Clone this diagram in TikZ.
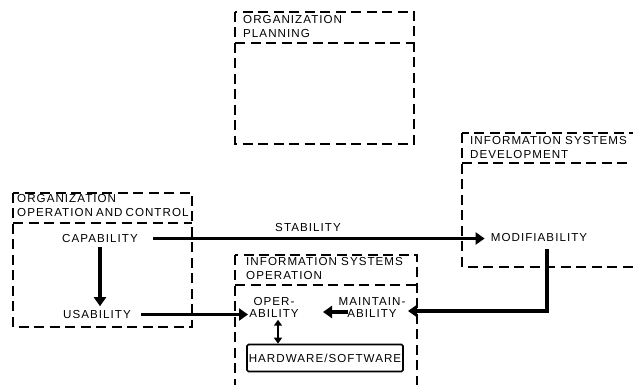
\documentclass[tikz,border=0pt]{standalone}
\usepackage{fontspec}
\setmainfont[LetterSpace=9]{Liberation Sans}
\usetikzlibrary{arrows.meta}
\begin{document}
\begin{tikzpicture}[x=1pt,y=-1pt,
  dashbox/.style={draw, line width=1.7pt, dash pattern=on 10pt off 5.5pt},
  lbl/.style={font=\fontsize{11.6}{12}\selectfont, inner sep=0pt, align=center},
  head/.style={font=\fontsize{11.6}{14}\selectfont, inner sep=0pt, align=left, anchor=north west},
  flow/.style={line width=3.2pt, -{Triangle[width=12pt,length=9pt]}},
  pair/.style={line width=2.2pt, {Triangle[width=8pt,length=6pt]}-{Triangle[width=8pt,length=6pt]}},
  hwbox/.style={draw, line width=1.6pt, rounded corners=1.5pt, minimum width=156pt, minimum height=27pt,
    font=\fontsize{11.6}{12}\selectfont, inner sep=0pt},
]
\useasboundingbox (0,0) rectangle (633,385);
\clip (0,0) rectangle (633,385);

% organization planning
\draw[dashbox] (235,12) rectangle (414,144);
\draw[dashbox] (235,43) -- (414,43);
\node[head] (planhead) at (243,15) {ORGANIZATION\\PLANNING};

% information systems development
\draw[dashbox] (462,133) rectangle (633.6,267);
\draw[dashbox] (462,163) -- (633.6,163);
\node[head] (devhead) at (470,136) {INFORMATION SYSTEMS\\DEVELOPMENT};

% organization operation and control
\draw[dashbox] (13,193) rectangle (192,327);
\draw[dashbox] (13,223) -- (192,223);
\node[head] (ctrlhead) at (17,194) {ORGANIZATION\\OPERATION\kern3ptAND\kern3ptCONTROL};

% information systems operation (open at the bottom)
\draw[dashbox] (235,255) rectangle (417,400);
\draw[dashbox] (235,285) -- (417,285);
\node[head] (ophead) at (246,257) {INFORMATION SYSTEMS\\OPERATION};

% qualities
\node[lbl] (cap) at (100,238.5) {CAPABILITY};
\node[lbl] (usa) at (97,314.5) {USABILITY};
\node[lbl] (mod) at (539,238) {MODIFIABILITY};
\node[lbl] (stab) at (308,228) {STABILITY};
\node[lbl] (oper) at (274,307.5) {OPER-\\ABILITY};
\node[lbl] (maint) at (372,307.5) {MAINTAIN-\\ABILITY};
\node[hwbox] (hw) at (325,358) {HARDWARE/SOFTWARE};

\coordinate (modout) at (547,249);
\coordinate (maintin) at (408,311);
\coordinate (maintout) at (348,312);
\coordinate (operin) at (323,312);

% connectors
\draw[flow, shorten <=15pt, shorten >=6pt] (cap.east) -- (cap.east -| mod.west);
\draw[flow, shorten <=4pt, shorten >=4pt] (cap.south) -- (usa.north -| cap.south);
\draw[flow, shorten <=10pt] (usa.east) -- (usa.east -| 248,0);
\draw[flow, line cap=butt] (modout) |- (maintin);
\draw[flow] (maintout) -- (operin);
\draw[pair] (oper.south -| 278,0) ++(0,2) -- (hw.north -| 278,0);
\end{tikzpicture}
\end{document}
